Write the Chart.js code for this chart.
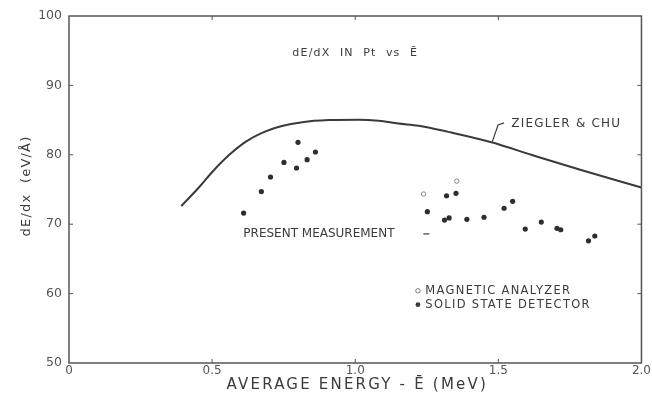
<!DOCTYPE html>
<html>
<head>
<meta charset="utf-8">
<script src="https://cdn.jsdelivr.net/npm/chart.js@4.4.0/dist/chart.umd.min.js"></script>
<style>
  html, body { margin: 0; padding: 0; background: #fff; }
  #wrap { width: 652px; height: 397px; }
</style>
</head>
<body>
<div id="wrap"><canvas id="chart"></canvas></div>
<script>
// Ziegler & Chu curve
var curveE = [0.392, 0.456, 0.502, 0.56, 0.618, 0.676, 0.734, 0.815, 0.908, 1.012, 1.082, 1.151, 1.221, 1.325, 1.476, 1.615, 1.789, 2.0];
var curveV = [72.6, 75.4, 77.6, 80.0, 81.9, 83.2, 84.05, 84.7, 85.0, 85.06, 84.9, 84.5, 84.2, 83.3, 81.8, 80.0, 77.8, 75.3];

// solid state detector points
var solidE = [0.61, 0.672, 0.704, 0.751, 0.795, 0.80, 0.832, 0.861, 1.252, 1.319, 1.352, 1.312, 1.328, 1.39, 1.45, 1.52, 1.55, 1.594, 1.65, 1.705, 1.718, 1.815, 1.837];
var solidV = [71.6, 74.7, 76.8, 78.9, 78.1, 81.8, 79.3, 80.4, 71.8, 74.1, 74.45, 70.6, 70.9, 70.7, 71.0, 72.3, 73.3, 69.3, 70.3, 69.4, 69.2, 67.6, 68.3];

// magnetic analyzer points
var magE = [1.239, 1.355];
var magV = [74.35, 76.2];

var xTicks = [0, 0.5, 1.0, 1.5, 2.0];
var xTickLabels = ['0', '0.5', '1.0', '1.5', '2.0'];
var yTicks = [50, 60, 70, 80, 90, 100];

function pts(xs, ys) {
  return xs.map(function(x, i) { return {x: x, y: ys[i]}; });
}

var ink = '#3b3b3b';
var font = '"DejaVu Sans", sans-serif';

function spaced(ctx, txt, px, py, sp) {
  ctx.letterSpacing = sp + 'px';
  ctx.fillText(txt, px, py);
  ctx.letterSpacing = '0px';
}

var decor = {
  id: 'decor',
  beforeDraw: function(chart) {
    var ctx = chart.ctx;
    ctx.save();
    ctx.fillStyle = '#fff';
    ctx.fillRect(0, 0, chart.width, chart.height);
    ctx.restore();
  },
  afterDraw: function(chart) {
    var ctx = chart.ctx, a = chart.chartArea;
    var x = chart.scales.x, y = chart.scales.y;
    ctx.save();
    // frame
    ctx.strokeStyle = '#555';
    ctx.lineWidth = 1.5;
    ctx.strokeRect(a.left, a.top, a.right - a.left, a.bottom - a.top);
    // inward ticks
    ctx.lineWidth = 1;
    [0.5, 1.0, 1.5].forEach(function(v) {
      var px = x.getPixelForValue(v);
      ctx.beginPath();
      ctx.moveTo(px, a.bottom); ctx.lineTo(px, a.bottom - 4);
      ctx.moveTo(px, a.top); ctx.lineTo(px, a.top + 4);
      ctx.stroke();
    });
    [60, 70, 80, 90].forEach(function(v) {
      var py = y.getPixelForValue(v);
      ctx.beginPath();
      ctx.moveTo(a.left, py); ctx.lineTo(a.left + 4, py);
      ctx.moveTo(a.right, py); ctx.lineTo(a.right - 4, py);
      ctx.stroke();
    });

    ctx.fillStyle = ink;
    ctx.textBaseline = 'middle';

    // axis titles
    ctx.textAlign = 'center';
    ctx.font = '15px ' + font;
    spaced(ctx, 'AVERAGE ENERGY - \u0112 (MeV)', (a.left + a.right) / 2 + 2, 385, 2.2);
    ctx.save();
    ctx.translate(27, 186);
    ctx.rotate(-Math.PI / 2);
    ctx.font = '13px ' + font;
    spaced(ctx, 'dE/dx  (eV/\u00C5)', 0, 0, 1.2);
    ctx.restore();

    // in-plot labels
    ctx.font = '11px ' + font;
    spaced(ctx, 'dE/dX  IN  Pt  vs  \u0112', x.getPixelForValue(1.0), y.getPixelForValue(94.7), 1.2);

    ctx.textAlign = 'left';
    ctx.font = '12px ' + font;
    spaced(ctx, 'ZIEGLER & CHU', x.getPixelForValue(1.545), y.getPixelForValue(84.4), 1.2);
    ctx.strokeStyle = ink;
    ctx.lineWidth = 1.2;
    ctx.beginPath();
    ctx.moveTo(x.getPixelForValue(1.479), y.getPixelForValue(81.9));
    ctx.lineTo(x.getPixelForValue(1.499), y.getPixelForValue(84.3));
    ctx.lineTo(x.getPixelForValue(1.52), y.getPixelForValue(84.6));
    ctx.stroke();

    spaced(ctx, 'PRESENT MEASUREMENT', x.getPixelForValue(0.609), y.getPixelForValue(68.6), 0);
    ctx.beginPath();
    ctx.moveTo(x.getPixelForValue(1.238), y.getPixelForValue(68.6));
    ctx.lineTo(x.getPixelForValue(1.259), y.getPixelForValue(68.6));
    ctx.stroke();

    // legend
    ctx.font = '11.5px ' + font;
    var lx = x.getPixelForValue(1.219);
    var r1 = y.getPixelForValue(60.4), r2 = y.getPixelForValue(58.4);
    ctx.beginPath();
    ctx.arc(lx, r1, 2.2, 0, Math.PI * 2);
    ctx.strokeStyle = '#777';
    ctx.lineWidth = 1;
    ctx.stroke();
    ctx.beginPath();
    ctx.arc(lx, r2, 2.4, 0, Math.PI * 2);
    ctx.fill();
    spaced(ctx, 'MAGNETIC ANALYZER', x.getPixelForValue(1.245), r1, 1.3);
    spaced(ctx, 'SOLID STATE DETECTOR', x.getPixelForValue(1.245), r2, 1.3);
    ctx.restore();
  }
};

new Chart(document.getElementById('chart'), {
  type: 'scatter',
  data: {
    datasets: [{
      label: 'Ziegler & Chu',
      data: pts(curveE, curveV),
      showLine: true,
      borderColor: '#3a3a3a',
      borderWidth: 2,
      pointRadius: 0,
      cubicInterpolationMode: 'monotone',
      fill: false
    }, {
      label: 'Solid state detector',
      data: pts(solidE, solidV),
      pointRadius: 2.6,
      pointBackgroundColor: '#2e2e2e',
      pointBorderColor: '#2e2e2e',
      pointBorderWidth: 0
    }, {
      label: 'Magnetic analyzer',
      data: pts(magE, magV),
      pointRadius: 2.2,
      pointBackgroundColor: '#fff',
      pointBorderColor: '#888',
      pointBorderWidth: 1
    }]
  },
  options: {
    responsive: true,
    maintainAspectRatio: false,
    animation: false,
    layout: { padding: { top: 16, right: 8, left: 0, bottom: 0 } },
    plugins: { legend: { display: false }, tooltip: { enabled: false } },
    scales: {
      x: {
        type: 'linear',
        min: 0, max: 2,
        afterFit: function(s) { s.height = 34; },
        afterBuildTicks: function(s) { s.ticks = xTicks.map(function(v) { return {value: v}; }); },
        grid: { display: false, drawTicks: false },
        border: { display: false },
        ticks: {
          padding: 1,
          color: '#555',
          font: { family: font, size: 12 },
          callback: function(v) { return xTickLabels[xTicks.indexOf(v)]; }
        },
        title: { display: false }
      },
      y: {
        type: 'linear',
        min: 50, max: 100,
        afterFit: function(s) { s.width = 69; },
        afterBuildTicks: function(s) { s.ticks = yTicks.map(function(v) { return {value: v}; }); },
        grid: { display: false, drawTicks: false },
        border: { display: false },
        ticks: {
          padding: 7,
          color: '#555',
          font: { family: font, size: 12.5 }
        },
        title: { display: false }
      }
    }
  },
  plugins: [decor]
});
</script>
</body>
</html>
